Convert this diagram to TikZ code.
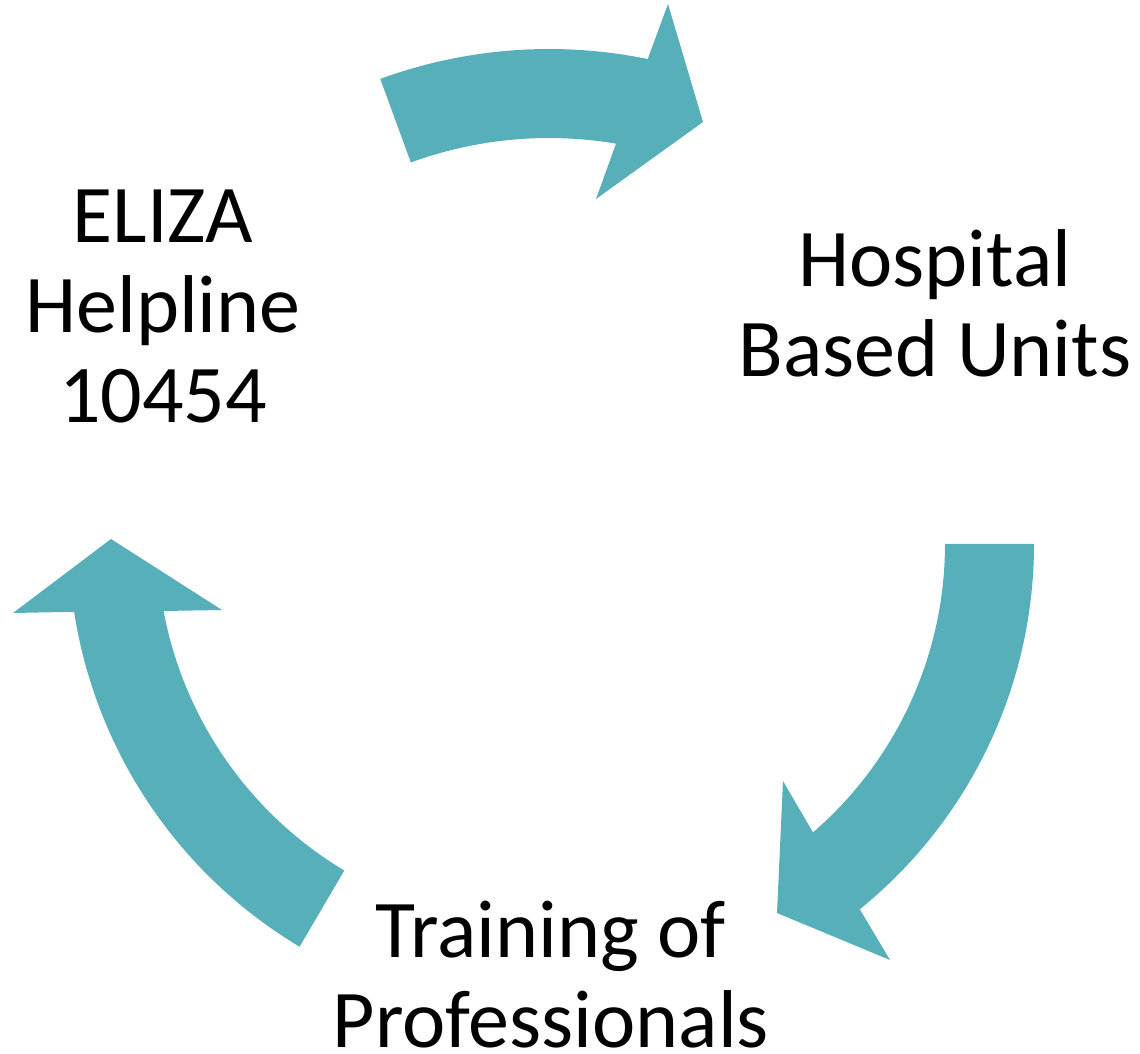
\documentclass[tikz,border=0pt]{standalone}
\usepackage{fontspec}
\setmainfont{Carlito}
\usetikzlibrary{calc}
\definecolor{arrowteal}{RGB}{86,175,185}
\tikzset{
  cyclearrow/.style={fill=arrowteal, draw=none},
  stage/.style={align=center, inner sep=0pt, font=\fontsize{82}{90}\selectfont}
}
\begin{document}
\begin{tikzpicture}[x=1pt,y=1pt]
        \useasboundingbox (0,0) rectangle (1140,1053);

        % Centres of the three arcs
        \coordinate (Ct) at (549,513);
        \coordinate (Cr) at (564,509);
        \coordinate (Cl) at (543,513);

        % Stage labels
        \node[stage] (eliza) at (163,747) {ELIZA\\Helpline\\10454};
        \node[stage] (hospital) at (935,750) {Hospital\\Based Units};
        \node[stage] (training) at (551,78) {Training of\\Professionals};

        % Arrow from ELIZA to hospital units
        \fill[cyclearrow] ($(Ct)+(110.1:491)$) arc[start angle=110.1, end angle=78.4, radius=491]
            -- (668,1049) -- (703,931) -- (596,854)
            -- ($(Ct)+(80.4:402)$) arc[start angle=80.4, end angle=110.1, radius=402] -- cycle;

        % Arrow from hospital units to training
        \fill[cyclearrow] ($(Cr)+(0:470)$) arc[start angle=0, end angle=-51, radius=470]
            -- (890,93) -- (777,140) -- (783,272)
            -- ($(Cr)+(-49.2:381)$) arc[start angle=-49.2, end angle=0, radius=381] -- cycle;

        % Arrow from training back to ELIZA
        \fill[cyclearrow] ($(Cl)+(239.1:474)$) arc[start angle=239.1, end angle=188.8, radius=475]
            -- (13,440) -- (111,514) -- (222,443)
            -- ($(Cl)+(190.6:386)$) arc[start angle=190.6, end angle=239.1, radius=385] -- cycle;

\end{tikzpicture}
\end{document}
